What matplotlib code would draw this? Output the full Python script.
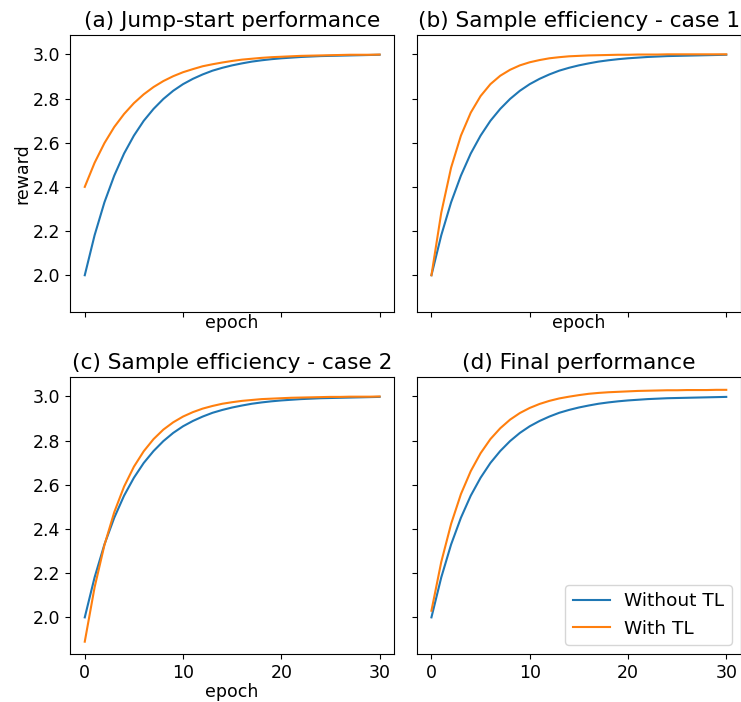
import numpy as np
import matplotlib
matplotlib.use("Agg")
import matplotlib.pyplot as plt

plt.rcParams["font.size"] = 12.5

epochs = list(range(31))

without_tl = [2.000, 2.181, 2.330, 2.451, 2.551, 2.632, 2.699, 2.753, 2.798, 2.835,
              2.865, 2.889, 2.909, 2.926, 2.939, 2.950, 2.959, 2.967, 2.973, 2.978,
              2.982, 2.985, 2.988, 2.990, 2.992, 2.993, 2.994, 2.995, 2.996, 2.997, 2.998]

with_tl_a = [2.400, 2.509, 2.598, 2.671, 2.730, 2.779, 2.819, 2.852, 2.879, 2.901,
             2.919, 2.933, 2.946, 2.955, 2.963, 2.970, 2.976, 2.980, 2.984, 2.987,
             2.989, 2.991, 2.993, 2.994, 2.995, 2.996, 2.997, 2.998, 2.998, 2.998, 2.999]

with_tl_b = [2.000, 2.283, 2.487, 2.632, 2.736, 2.811, 2.865, 2.903, 2.930, 2.950,
             2.964, 2.974, 2.982, 2.987, 2.991, 2.993, 2.995, 2.996, 2.997, 2.998,
             2.998, 2.999, 2.999, 2.999, 3.000, 3.000, 3.000, 3.000, 3.000, 3.000, 3.000]

with_tl_c = [1.890, 2.136, 2.327, 2.476, 2.592, 2.682, 2.752, 2.807, 2.850, 2.883,
             2.909, 2.929, 2.945, 2.957, 2.967, 2.974, 2.980, 2.984, 2.988, 2.990,
             2.992, 2.994, 2.995, 2.996, 2.997, 2.998, 2.998, 2.999, 2.999, 2.999, 3.000]

with_tl_d = [2.030, 2.251, 2.423, 2.558, 2.662, 2.743, 2.807, 2.856, 2.895, 2.925,
             2.948, 2.966, 2.980, 2.991, 2.999, 3.006, 3.012, 3.016, 3.019, 3.021,
             3.023, 3.025, 3.026, 3.027, 3.028, 3.028, 3.029, 3.029, 3.029, 3.030, 3.030]

titles = ["(a) Jump-start performance", "(b) Sample efficiency - case 1",
          "(c) Sample efficiency - case 2", "(d) Final performance"]
with_tl = [with_tl_a, with_tl_b, with_tl_c, with_tl_d]

fig, axes = plt.subplots(2, 2, sharex=True, sharey=True, figsize=(7.41, 7.02), dpi=100)
for ax, title, w in zip(axes.flat, titles, with_tl):
    ax.plot(epochs, without_tl, label="Without TL")
    ax.plot(epochs, w, label="With TL")
    ax.set_title(title, fontsize=15.6)

axes[0, 0].set_ylabel("reward", labelpad=1)
axes[0, 0].set_xlabel("epoch", labelpad=-2)
axes[0, 1].set_xlabel("epoch", labelpad=-2)
axes[1, 0].set_xlabel("epoch", labelpad=1)
axes[1, 1].legend(loc="lower right", fontsize=13.3)
axes[1, 1].set_xticks([0, 10, 20, 30])
axes[0, 0].set_yticks([2.0, 2.2, 2.4, 2.6, 2.8, 3.0])

fig.subplots_adjust(left=0.0945, right=1.0, bottom=0.068, top=0.950,
                    wspace=0.069, hspace=0.235)
plt.savefig("out.png")
